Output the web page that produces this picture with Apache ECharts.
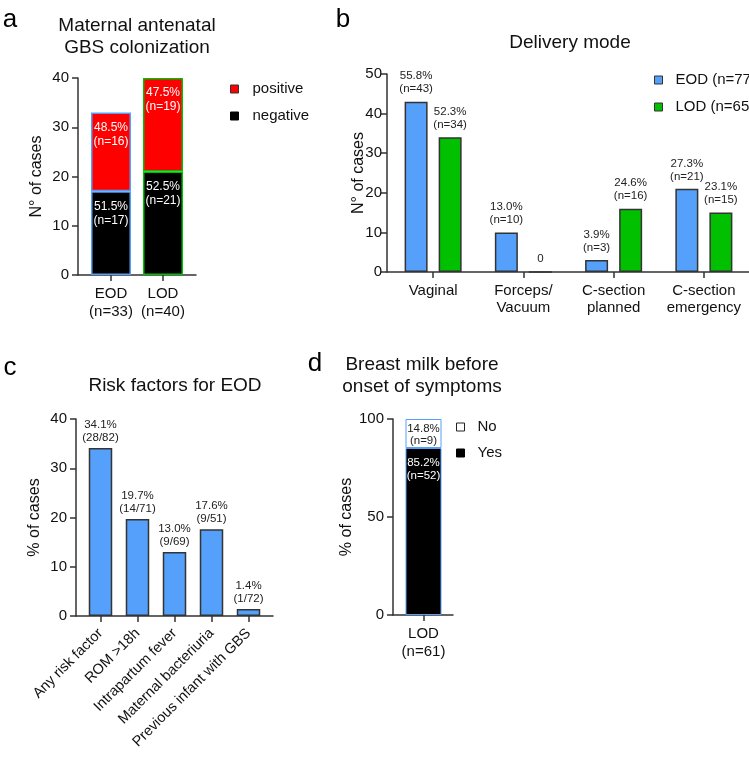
<!DOCTYPE html>
<html>
<head>
<meta charset="utf-8">
<script src="https://cdn.jsdelivr.net/npm/echarts@6/dist/echarts.min.js"></script>
<style>
html,body{margin:0;padding:0;background:#fff;}
#chart{width:749px;height:762px;}
</style>
</head>
<body>
<div id="chart"></div>
<script>
// ---- Panel a: Maternal antenatal GBS colonization ----
const aCats = ['EOD\n(n=33)', 'LOD\n(n=40)'];
const aNegative = [17, 21];
const aPositive = [16, 19];
const aNegLabels = ['51.5%\n(n=17)', '52.5%\n(n=21)'];
const aPosLabels = ['48.5%\n(n=16)', '47.5%\n(n=19)'];

// ---- Panel b: Delivery mode ----
const bCats = ['Vaginal', 'Forceps/\nVacuum', 'C-section\nplanned', 'C-section\nemergency'];
const bEOD = [43, 10, 3, 21];
const bLOD = [34, 0, 16, 15];
const bEODLabels = ['55.8%\n(n=43)', '13.0%\n(n=10)', '3.9%\n(n=3)', '27.3%\n(n=21)'];
const bLODLabels = ['52.3%\n(n=34)', '0', '24.6%\n(n=16)', '23.1%\n(n=15)'];

// ---- Panel c: Risk factors for EOD ----
const cCats = ['Any risk factor', 'ROM >18h', 'Intrapartum fever', 'Maternal bacteriuria', 'Previous infant with GBS'];
const cValues = [34.1, 19.7, 13.0, 17.6, 1.4];
const cLabels = ['34.1%\n(28/82)', '19.7%\n(14/71)', '13.0%\n(9/69)', '17.6%\n(9/51)', '1.4%\n(1/72)'];

// ---- Panel d: Breast milk before onset of symptoms ----
const dCats = ['LOD\n(n=61)'];
const dYes = [85.2];
const dNo = [14.8];
const dYesLabels = ['85.2%\n(n=52)'];
const dNoLabels = ['14.8%\n(n=9)'];

const FONT = '"Liberation Sans", Arial, sans-serif';
const AX = '#333333';
const BLUE = '#55a0fb';
const GREEN = '#00c000';
const RED = '#ff0000';

const chart = echarts.init(document.getElementById('chart'), null, {renderer: 'canvas'});

function frameX(grid) {
  return {type: 'value', gridIndex: grid, min: 0, max: 1,
    axisLine: {show: true, onZero: false, lineStyle: {color: AX, width: 1.5}},
    axisTick: {show: false}, axisLabel: {show: false}, splitLine: {show: false}};
}
function frameY(grid, max, interval, name, nameGap, margin, extra) {
  return Object.assign({type: 'value', gridIndex: grid, min: 0, max: max, interval: interval,
    name: name, nameLocation: 'middle', nameRotate: 90, nameGap: nameGap,
    nameTextStyle: {fontFamily: FONT, fontSize: 16, color: '#111'},
    axisLine: {show: true, lineStyle: {color: AX, width: 1.5}},
    axisTick: {show: true, length: 6, lineStyle: {color: AX, width: 1.5}},
    axisLabel: {fontFamily: FONT, fontSize: 15, color: '#111', margin: margin},
    splitLine: {show: false}}, extra || {});
}
function dataX(grid, cats, extra) {
  return Object.assign({type: 'category', gridIndex: grid, data: cats,
    axisLine: {show: false},
    axisTick: {show: true, alignWithLabel: true, length: 6, lineStyle: {color: AX, width: 1.5}},
    axisLabel: {fontFamily: FONT, fontSize: 15, color: '#111', margin: 10, lineHeight: 18, interval: 0},
    splitLine: {show: false}}, extra || {});
}
function dataY(grid, max) {
  return {type: 'value', gridIndex: grid, min: 0, max: max, show: false, splitLine: {show: false}};
}
const lbl = (arr, extra) => Object.assign({show: true, fontFamily: FONT, fontSize: 11.5, lineHeight: 13,
  formatter: p => arr[p.dataIndex]}, extra);

const legendText = pad => ({fontFamily: FONT, fontSize: 15, color: '#111', lineHeight: 18, padding: [0, 0, 0, pad]});

const option = {
  animation: false,
  backgroundColor: '#fff',
  grid: [
    {left: 78, top: 78, width: 118, height: 197},   // a frame
    {left: 85, top: 78, width: 104, height: 197},   // a data
    {left: 387, top: 74, width: 362, height: 198},  // b frame
    {left: 388, top: 74, width: 367, height: 198},  // b data
    {left: 76, top: 419, width: 197, height: 197},  // c frame
    {left: 82, top: 419, width: 185, height: 197},  // c data
    {left: 393, top: 419, width: 60, height: 196},  // d frame
    {left: 398, top: 419, width: 51, height: 196}   // d data
  ],
  xAxis: [
    frameX(0), dataX(1, aCats),
    frameX(2), dataX(3, bCats, {axisLabel: {fontFamily: FONT, fontSize: 15, color: '#111', margin: 10, lineHeight: 17, interval: 0}}),
    frameX(4), dataX(5, cCats, {axisLabel: {fontFamily: FONT, fontSize: 14.5, color: '#111', margin: 15, rotate: 45, interval: 0}}),
    frameX(6), dataX(7, dCats)
  ],
  yAxis: [
    frameY(0, 40, 10, 'N° of cases', 33, 9), dataY(1, 40),
    frameY(2, 50, 10, 'N° of cases', 20, 5, {nameMoveOverlap: false}), dataY(3, 50),
    frameY(4, 40, 10, '% of cases', 33, 9), dataY(5, 40),
    frameY(6, 100, 50, '% of cases', 36, 9), dataY(7, 100)
  ],
  legend: [
    {orient: 'vertical', left: 225, top: 75, icon: 'rect', itemWidth: 8, itemHeight: 8, itemGap: 9,
      data: [{name: 'positive', itemStyle: {color: RED, borderColor: '#333', borderWidth: 1}},
             {name: 'negative', itemStyle: {color: '#000', borderColor: '#000', borderWidth: 1}}],
      textStyle: legendText(9), selectedMode: false},
    {orient: 'vertical', left: 649, top: 66, icon: 'rect', itemWidth: 8, itemHeight: 8, itemGap: 9,
      data: [{name: 'EOD (n=77)', itemStyle: {color: BLUE, borderColor: '#333', borderWidth: 1}},
             {name: 'LOD (n=65)', itemStyle: {color: GREEN, borderColor: '#333', borderWidth: 1}}],
      textStyle: legendText(8), selectedMode: false},
    {orient: 'vertical', left: 451, top: 413, icon: 'rect', itemWidth: 8, itemHeight: 8, itemGap: 8,
      data: [{name: 'No', itemStyle: {color: '#fff', borderColor: '#222', borderWidth: 1}},
             {name: 'Yes', itemStyle: {color: '#000', borderColor: '#000', borderWidth: 1}}],
      textStyle: legendText(8), selectedMode: false}
  ],
  graphic: [
    {type: 'text', x: 10, y: 20, style: {text: 'a', fontFamily: FONT, fontSize: 26, fill: '#000', align: 'center', verticalAlign: 'middle'}},
    {type: 'text', x: 137, y: 37, style: {text: 'Maternal antenatal\nGBS colonization', fontFamily: FONT, fontSize: 19, lineHeight: 22, fill: '#111', align: 'center', verticalAlign: 'middle'}},
    {type: 'text', x: 343, y: 20, style: {text: 'b', fontFamily: FONT, fontSize: 26, fill: '#000', align: 'center', verticalAlign: 'middle'}},
    {type: 'text', x: 570, y: 43, style: {text: 'Delivery mode', fontFamily: FONT, fontSize: 19, fill: '#111', align: 'center', verticalAlign: 'middle'}},
    {type: 'text', x: 10, y: 368, style: {text: 'c', fontFamily: FONT, fontSize: 26, fill: '#000', align: 'center', verticalAlign: 'middle'}},
    {type: 'text', x: 175, y: 386, style: {text: 'Risk factors for EOD', fontFamily: FONT, fontSize: 19, fill: '#111', align: 'center', verticalAlign: 'middle'}},
    {type: 'text', x: 315, y: 364, style: {text: 'd', fontFamily: FONT, fontSize: 26, fill: '#000', align: 'center', verticalAlign: 'middle'}},
    {type: 'text', x: 422, y: 376, style: {text: 'Breast milk before\nonset of symptoms', fontFamily: FONT, fontSize: 19, lineHeight: 22, fill: '#111', align: 'center', verticalAlign: 'middle'}}
  ],
  series: [
    // panel a
    {name: 'negative', type: 'bar', xAxisIndex: 1, yAxisIndex: 1, stack: 'a', barWidth: 40,
      data: aNegative.map((v, i) => ({value: v, itemStyle: {borderColor: i === 0 ? BLUE : GREEN}})),
      itemStyle: {color: '#000', borderWidth: 1.5},
      label: lbl(aNegLabels, {position: 'insideTop', distance: 8, color: '#fff', fontSize: 12, lineHeight: 14})},
    {name: 'positive', type: 'bar', xAxisIndex: 1, yAxisIndex: 1, stack: 'a', barWidth: 40,
      data: aPositive.map((v, i) => ({value: v, itemStyle: {borderColor: i === 0 ? BLUE : GREEN}})),
      itemStyle: {color: RED, borderWidth: 1.5},
      label: lbl(aPosLabels, {position: 'insideTop', distance: 8, color: '#fff', fontSize: 12, lineHeight: 14})},
    // panel b
    {name: 'EOD (n=77)', type: 'bar', xAxisIndex: 3, yAxisIndex: 3, barWidth: 23, barGap: '48%',
      data: bEOD, itemStyle: {color: BLUE, borderColor: '#333', borderWidth: 1.5},
      label: lbl(bEODLabels, {position: 'top', distance: 6, color: '#222'})},
    {name: 'LOD (n=65)', type: 'bar', xAxisIndex: 3, yAxisIndex: 3, barWidth: 23, barGap: '48%',
      data: bLOD, itemStyle: {color: GREEN, borderColor: '#333', borderWidth: 1.5},
      label: lbl(bLODLabels, {position: 'top', distance: 6, color: '#222'})},
    // panel c
    {name: 'Risk factors', type: 'bar', xAxisIndex: 5, yAxisIndex: 5, barWidth: 23.5,
      data: cValues, itemStyle: {color: BLUE, borderColor: '#333', borderWidth: 1.5},
      label: lbl(cLabels, {position: 'top', distance: 4, color: '#222'})},
    // panel d
    {name: 'Yes', type: 'bar', xAxisIndex: 7, yAxisIndex: 7, stack: 'd', barWidth: 36,
      data: dYes, itemStyle: {color: '#000', borderColor: BLUE, borderWidth: 1},
      label: lbl(dYesLabels, {position: 'insideTop', distance: 8, color: '#fff'})},
    {name: 'No', type: 'bar', xAxisIndex: 7, yAxisIndex: 7, stack: 'd', barWidth: 36,
      data: dNo, itemStyle: {color: '#fff', borderColor: BLUE, borderWidth: 1},
      label: lbl(dNoLabels, {position: 'insideTop', distance: 4, color: '#222', lineHeight: 12})}
  ]
};
chart.setOption(option);
</script>
</body>
</html>
